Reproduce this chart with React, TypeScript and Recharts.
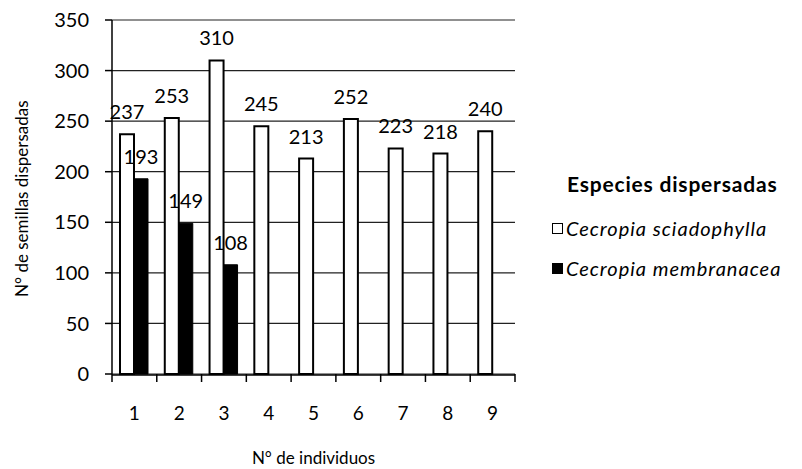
import React from 'react';
import { Bar, BarChart, CartesianGrid, LabelList, XAxis, YAxis } from 'recharts';

const individuos = ['1', '2', '3', '4', '5', '6', '7', '8', '9'];
const sciadophylla = [237, 253, 310, 245, 213, 252, 223, 218, 240];
const membranacea = [193, 149, 108, null, null, null, null, null, null];
const yTicks = [0, 50, 100, 150, 200, 250, 300, 350];
const boundaryTicks = [0.5, 1.5, 2.5, 3.5, 4.5, 5.5, 6.5, 7.5, 8.5, 9.5];
const seriesNames = ['Cecropia sciadophylla', 'Cecropia membranacea'];

const data = individuos.map((ind, i) => ({
    ind,
    pos: i + 1,
    sciadophylla: sciadophylla[i],
    membranacea: membranacea[i],
}));

const FONT = 'Lato, "Open Sans", sans-serif';

export default function App() {
    return (
        <div style={{ position: 'absolute', left: 0, top: 0, width: 802, height: 469, background: '#fff', fontFamily: FONT }}>
            <BarChart
                width={802}
                height={469}
                data={data}
                margin={{ top: 20, right: 287, left: 52, bottom: 35 }}
                barGap={0}
                barSize={14}
            >
                <CartesianGrid xAxisId="b" vertical={false} stroke="#222" strokeWidth={1.2} />
                {/* boundary tick marks, Excel style */}
                <XAxis
                    xAxisId="a"
                    type="number"
                    dataKey="pos"
                    domain={[0.5, 9.5]}
                    ticks={boundaryTicks}
                    allowDataOverflow
                    height={1}
                    tick={{ fontSize: 1, fill: 'transparent' }}
                    axisLine={false}
                    tickLine={{ stroke: '#000', strokeWidth: 1.5 }}
                    tickSize={8}
                />
                <XAxis
                    xAxisId="b"
                    dataKey="ind"
                    height={59}
                    tickLine={false}
                    axisLine={{ stroke: '#000', strokeWidth: 1.5 }}
                    tick={{ fill: '#000', fontSize: 19, fontFamily: FONT }}
                    tickMargin={26}
                    label={{ value: 'N° de individuos', position: 'insideBottom', offset: -30, fill: '#000', fontSize: 17, fontFamily: FONT }}
                />
                <YAxis
                    domain={[0, 350]}
                    ticks={yTicks}
                    width={60}
                    tickLine={{ stroke: '#000', strokeWidth: 1.5 }}
                    tickSize={7}
                    axisLine={{ stroke: '#000', strokeWidth: 1.5 }}
                    tick={{ fill: '#000', fontSize: 20, fontFamily: FONT }}
                    tickMargin={16}
                    label={{ value: 'N° de semillas dispersadas', angle: -90, position: 'insideLeft', offset: -30, dy: 100, fill: '#000', fontSize: 17, fontFamily: FONT }}
                />
                <Bar xAxisId="b" dataKey="sciadophylla" name={seriesNames[0]} fill="#fff" stroke="#000" strokeWidth={2} isAnimationActive={false}>
                    <LabelList dataKey="sciadophylla" position="top" offset={15} fill="#000" fontSize={20} fontFamily={FONT} />
                </Bar>
                <Bar xAxisId="b" dataKey="membranacea" name={seriesNames[1]} fill="#000" stroke="#000" strokeWidth={1} isAnimationActive={false}>
                    <LabelList dataKey="membranacea" position="top" offset={15} fill="#000" fontSize={20} fontFamily={FONT} />
                </Bar>
            </BarChart>
            <div style={{ position: 'absolute', left: 552, top: 171, color: '#000' }}>
                <div style={{ fontWeight: 700, fontSize: 21, letterSpacing: 0.8, marginLeft: 15, marginBottom: 12 }}>Especies dispersadas</div>
                {seriesNames.map((n, i) => (
                    <div key={n} style={{ display: 'flex', alignItems: 'center', fontSize: 20, letterSpacing: 1, fontStyle: 'italic', height: 40 }}>
                        <span style={{ width: 11, height: 11, border: '1.5px solid #000', background: i === 0 ? '#fff' : '#000', marginRight: 3, boxSizing: 'border-box' }} />
                        {n}
                    </div>
                ))}
            </div>
        </div>
    );
}
